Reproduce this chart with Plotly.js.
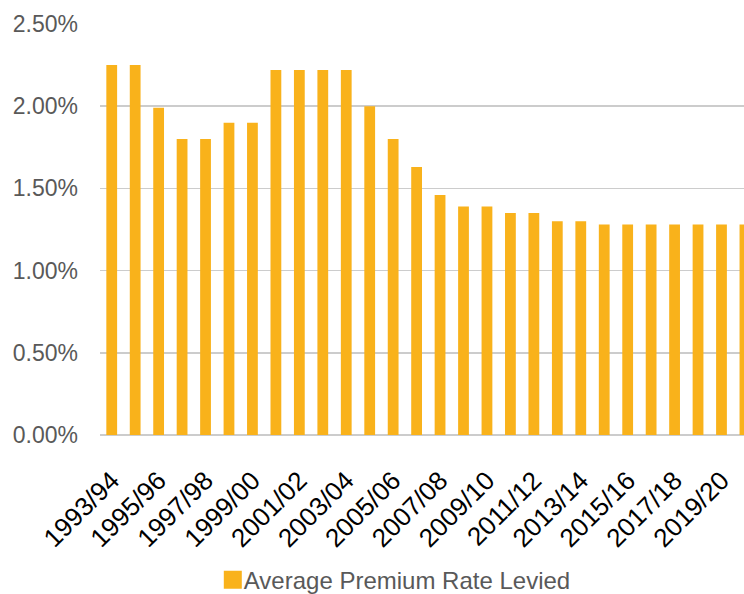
<!DOCTYPE html>
<html>
<head>
<meta charset="utf-8">
<script src="https://cdn.plot.ly/plotly-3.0.1.min.js"></script>
<style>
  html, body { margin: 0; padding: 0; background: #ffffff; }
  #chart { width: 744px; height: 594px; }
</style>
</head>
<body>
<div id="chart"></div>
<script>
// Financial years shown on the category axis
const years = [
  "1993/94", "1994/95", "1995/96", "1996/97", "1997/98", "1998/99", "1999/00",
  "2000/01", "2001/02", "2002/03", "2003/04", "2004/05", "2005/06", "2006/07",
  "2007/08", "2008/09", "2009/10", "2010/11", "2011/12", "2012/13", "2013/14",
  "2014/15", "2015/16", "2016/17", "2017/18", "2018/19", "2019/20", "2020/21"
];

// Average premium rate levied, in percent
const premiumRate = [
  2.25, 2.25, 1.99, 1.80, 1.80, 1.90, 1.90,
  2.22, 2.22, 2.22, 2.22, 2.00, 1.80, 1.63,
  1.46, 1.39, 1.39, 1.35, 1.35, 1.30, 1.30,
  1.28, 1.28, 1.28, 1.28, 1.28, 1.28, 1.28
];

// Every other year gets a label
const labelledYears = years.filter((_, i) => i % 2 === 0);

const seriesName = "Average Premium Rate Levied";

const trace = {
  type: "bar",
  x: years,
  y: premiumRate.map(v => v / 100),
  name: seriesName,
  marker: { color: "#F9B21B", line: { width: 0 } },
  hoverinfo: "x+y"
};

const font = "Liberation Sans, Arial, sans-serif";

const layout = {
  width: 744,
  height: 594,
  margin: { l: 100, r: 0, t: 24, b: 159, pad: 0, autoexpand: false },
  paper_bgcolor: "#ffffff",
  plot_bgcolor: "#ffffff",
  font: { family: font, size: 23, color: "#595959" },
  bargap: 0.54,
  showlegend: true,
  legend: {
    orientation: "h",
    x: 0.45, xanchor: "center",
    y: -0.353, yanchor: "middle",
    font: { family: font, size: 24, color: "#595959" },
    itemwidth: 30
  },
  xaxis: {
    type: "category",
    categoryorder: "array",
    categoryarray: years,
    range: [-0.5, 26.96],
    tickmode: "array",
    tickvals: labelledYears,
    ticktext: labelledYears,
    tickangle: -45,
    tickfont: { family: font, size: 26, color: "#000000" },
    showgrid: false,
    showline: false,
    ticks: "",
    zeroline: false,
    ticklabelstandoff: 24
  },
  yaxis: {
    range: [0, 0.025],
    dtick: 0.005,
    tick0: 0,
    tickformat: ".2%",
    tickfont: { family: font, size: 23, color: "#595959" },
    showgrid: true,
    gridcolor: "#cccccc",
    gridwidth: 1.5,
    zeroline: true,
    zerolinecolor: "#cccccc",
    zerolinewidth: 1.5,
    showline: false,
    ticks: "",
    ticklabelstandoff: 21
  }
};

Plotly.newPlot("chart", [trace], layout, { displayModeBar: false, staticPlot: true })
  .then(gd => {
    // Larger legend swatch, sitting right next to its label
    gd.querySelectorAll(".legend .legendpoints path").forEach(p => {
      const base = p.getAttribute("transform") || "";
      p.setAttribute("transform", base + " translate(9,0) scale(1.5)");
    });
  });
</script>
</body>
</html>
